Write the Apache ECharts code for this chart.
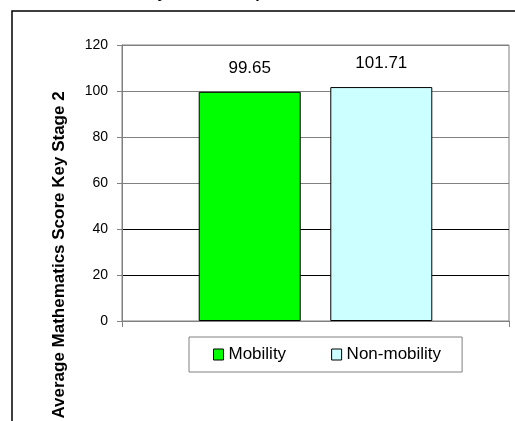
<!DOCTYPE html>
<html>
<head>
<meta charset="utf-8">
<script src="https://cdn.jsdelivr.net/npm/echarts@6/dist/echarts.min.js"></script>
<style>
html,body{margin:0;padding:0;background:#fff;}
#c{width:515px;height:421px;}
</style>
</head>
<body>
<div id="c"></div>
<script>
var titleText = 'Mobility Score Comparison';
var yAxisTitle = 'Average Mathematics Score Key Stage 2';
var categories = [''];
var seriesNames = ['Mobility', 'Non-mobility'];
var mobilityValues = [99.65];
var nonMobilityValues = [101.71];
var yTicks = {min: 0, max: 120, interval: 20};

var FONT = 'Liberation Sans, Arial, sans-serif';
var chart = echarts.init(document.getElementById('c'), null, {renderer: 'canvas'});
chart.setOption({
  backgroundColor: '#fff',
  animation: false,
  graphic: [
    {type: 'rect', shape: {x: 12, y: 11, width: 800, height: 800},
     style: {fill: 'none', stroke: '#000', lineWidth: 1.5}, silent: true, z: 0},
    {type: 'text', x: 106, y: -6,
     style: {text: titleText, font: 'bold 16px ' + FONT, fill: '#000', align: 'left', verticalAlign: 'middle'}},
    {type: 'text', x: 59, y: 255, rotation: Math.PI / 2,
     style: {text: yAxisTitle, font: 'bold 17px ' + FONT, fill: '#000', align: 'center', verticalAlign: 'middle'}}
  ],
  grid: {left: 122, top: 45, right: 6, bottom: 100, show: true, borderColor: '#808080', borderWidth: 1, backgroundColor: '#fff'},
  legend: {
    data: seriesNames, left: 189, top: 337, orient: 'horizontal',
    icon: 'rect', itemWidth: 10, itemHeight: 11, itemGap: 45,
    padding: [9, 21, 9, 24], borderColor: '#808080', borderWidth: 1,
    textStyle: {fontFamily: FONT, fontSize: 17, color: '#000'},
    itemStyle: {borderColor: '#000', borderWidth: 1}
  },
  xAxis: {
    type: 'category', data: categories,
    axisLine: {show: true, lineStyle: {color: '#808080', width: 1}},
    axisTick: {show: true, length: 6, lineStyle: {color: '#808080'}},
    axisLabel: {show: false}, splitLine: {show: false}
  },
  yAxis: {
    type: 'value', min: yTicks.min, max: yTicks.max, interval: yTicks.interval,
    axisLine: {show: true, lineStyle: {color: '#808080', width: 1}},
    axisTick: {show: true, length: 5, lineStyle: {color: '#808080'}},
    axisLabel: {fontFamily: FONT, fontSize: 14, color: '#000', margin: 14},
    splitLine: {show: true, lineStyle: {width: 1, color: ['#808080', '#000', '#000', '#808080', '#808080', '#808080', '#808080']}}
  },
  series: [
    {name: seriesNames[0], type: 'bar', data: mobilityValues, barWidth: 102, barGap: '29%',
     itemStyle: {color: '#00FF00', borderColor: '#000', borderWidth: 1},
     label: {show: true, position: 'top', distance: 15, fontFamily: FONT, fontSize: 17, color: '#000'}},
    {name: seriesNames[1], type: 'bar', data: nonMobilityValues, barWidth: 102, barGap: '29%',
     itemStyle: {color: '#CCFFFF', borderColor: '#000', borderWidth: 1},
     label: {show: true, position: 'top', distance: 15, fontFamily: FONT, fontSize: 17, color: '#000'}}
  ]
});
</script>
</body>
</html>
